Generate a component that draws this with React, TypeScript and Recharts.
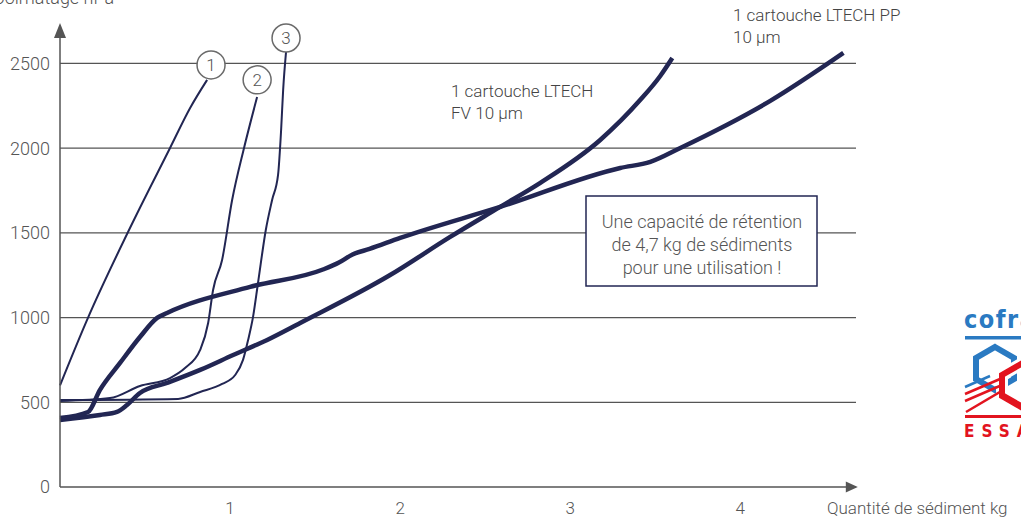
import React from "react";
import { LineChart, Line, XAxis, YAxis, ReferenceLine, ReferenceDot } from "recharts";

const xTicks = [1, 2, 3, 4];
const yTicks = [0, 500, 1000, 1500, 2000, 2500];

// thin numbered curves
const filter1 = [
  { x: 0, y: 600 },
  { x: 0.165, y: 1000 },
  { x: 0.4, y: 1505 },
  { x: 0.647, y: 2001 },
  { x: 0.765, y: 2237 },
  { x: 0.865, y: 2403 },
];

const filter2 = [
  { x: 0, y: 508 },
  { x: 0.294, y: 525 },
  { x: 0.47, y: 596 },
  { x: 0.647, y: 643 },
  { x: 0.735, y: 702 },
  { x: 0.824, y: 809 },
  { x: 0.871, y: 968 },
  { x: 0.9, y: 1163 },
  { x: 0.953, y: 1340 },
  { x: 1.012, y: 1694 },
  { x: 1.082, y: 2001 },
  { x: 1.159, y: 2302 },
];

const filter3 = [
  { x: 0, y: 513 },
  { x: 0.694, y: 520 },
  { x: 0.824, y: 561 },
  { x: 0.953, y: 608 },
  { x: 1.03, y: 661 },
  { x: 1.076, y: 750 },
  { x: 1.106, y: 868 },
  { x: 1.135, y: 1004 },
  { x: 1.165, y: 1210 },
  { x: 1.21, y: 1517 },
  { x: 1.247, y: 1694 },
  { x: 1.282, y: 1842 },
  { x: 1.3, y: 2107 },
  { x: 1.312, y: 2344 },
  { x: 1.329, y: 2568 },
];

// LTECH FV 10 µm
const fv10 = [
  { x: 0, y: 396 },
  { x: 0.235, y: 425 },
  { x: 0.335, y: 443 },
  { x: 0.394, y: 484 },
  { x: 0.47, y: 555 },
  { x: 0.629, y: 614 },
  { x: 0.824, y: 691 },
  { x: 1.018, y: 779 },
  { x: 1.218, y: 868 },
  { x: 1.412, y: 968 },
  { x: 1.941, y: 1251 },
  { x: 2.294, y: 1476 },
  { x: 2.588, y: 1653 },
  { x: 2.824, y: 1795 },
  { x: 3.176, y: 2048 },
  { x: 3.412, y: 2285 },
  { x: 3.529, y: 2426 },
  { x: 3.6, y: 2532 },
];

// LTECH PP 10 µm
const pp10 = [
  { x: 0, y: 407 },
  { x: 0.165, y: 443 },
  { x: 0.235, y: 573 },
  { x: 0.353, y: 732 },
  { x: 0.47, y: 885 },
  { x: 0.571, y: 998 },
  { x: 0.629, y: 1027 },
  { x: 1.118, y: 1181 },
  { x: 1.55, y: 1285 },
  { x: 1.64, y: 1325 },
  { x: 1.72, y: 1372 },
  { x: 1.82, y: 1405 },
  { x: 2.0, y: 1470 },
  { x: 2.588, y: 1653 },
  { x: 3.294, y: 1883 },
  { x: 3.471, y: 1919 },
  { x: 3.647, y: 2001 },
  { x: 4.176, y: 2279 },
  { x: 4.606, y: 2562 },
];

const markers = [
  { id: "1", x: 0.888, y: 2491 },
  { id: "2", x: 1.159, y: 2403 },
  { id: "3", x: 1.329, y: 2650 },
];

const NAVY = "#222653";
const GREY = "#555";
const FONT = "Roboto, 'Noto Sans', sans-serif";

const upArrow = (p: any) => (
  <path d={`M${p.cx},${p.cy - 15} L${p.cx + 6},${p.cy} L${p.cx - 6},${p.cy} Z`} fill={GREY} />
);
const rightArrow = (p: any) => (
  <path d={`M${p.cx + 12},${p.cy} L${p.cx},${p.cy - 5.5} L${p.cx},${p.cy + 5.5} Z`} fill={GREY} />
);

export default function App() {
  return (
    <div style={{ position: "absolute", left: 0, top: 0, width: 1021, height: 519, background: "#fff", fontFamily: FONT }}>
      <LineChart width={1021} height={519} margin={{ top: 38, right: 165, bottom: 0, left: 0 }}>
        <XAxis
          type="number"
          dataKey="x"
          domain={[0, 4.68]}
          ticks={xTicks}
          height={32}
          tickSize={0}
          tickMargin={15}
          axisLine={{ stroke: GREY, strokeWidth: 1.5 }}
          tick={{ fill: GREY, fontSize: 17, fontWeight: 300, fontFamily: FONT }}
        />
        <YAxis
          type="number"
          dataKey="y"
          domain={[0, 2650]}
          ticks={yTicks}
          width={60}
          tickSize={0}
          tickMargin={10}
          axisLine={{ stroke: GREY, strokeWidth: 1.5 }}
          tick={{ fill: GREY, fontSize: 18, fontWeight: 300, fontFamily: FONT }}
        />
        {yTicks.slice(1).map((t) => (
          <ReferenceLine key={t} y={t} stroke="#555" strokeWidth={1.2} />
        ))}
        <Line data={filter1} dataKey="y" type="monotone" stroke={NAVY} strokeWidth={2} dot={false} isAnimationActive={false} />
        <Line data={filter2} dataKey="y" type="monotone" stroke={NAVY} strokeWidth={2} dot={false} isAnimationActive={false} />
        <Line data={filter3} dataKey="y" type="monotone" stroke={NAVY} strokeWidth={2} dot={false} isAnimationActive={false} />
        <Line data={fv10} dataKey="y" type="monotone" stroke={NAVY} strokeWidth={4.5} dot={false} isAnimationActive={false} />
        <Line data={pp10} dataKey="y" type="monotone" stroke={NAVY} strokeWidth={4.5} dot={false} isAnimationActive={false} />
        <ReferenceDot x={0} y={2650} r={0} shape={upArrow} ifOverflow="visible" />
        <ReferenceDot x={4.62} y={0} r={0} shape={rightArrow} ifOverflow="visible" />
        {markers.map((m) => (
          <ReferenceDot
            key={m.id}
            x={m.x}
            y={m.y}
            r={14}
            fill="#fff"
            stroke="#6a6a6a"
            strokeWidth={1.5}
            ifOverflow="visible"
            label={{ value: m.id, position: "center", fill: GREY, fontSize: 17, fontWeight: 300, fontFamily: FONT }}
          />
        ))}
      </LineChart>

      <svg width={1021} height={519} style={{ position: "absolute", left: 0, top: 0, pointerEvents: "none" }}>
        <g fontFamily={FONT} fontWeight={300} fill={GREY}>
          <text x={-7} y={4} fontSize={18}>Colmatage hPa</text>
          <text x={827} y={514} fontSize={17}>Quantité de sédiment kg</text>
          <text x={451} y={97} fontSize={17} fill="#444">1 cartouche LTECH</text>
          <text x={451} y={119} fontSize={17} fill="#444">FV 10 µm</text>
          <text x={733} y={21} fontSize={17} fill="#444">1 cartouche LTECH PP</text>
          <text x={733} y={43} fontSize={17} fill="#444">10 µm</text>
        </g>

        <rect x={586} y={196} width={231} height={90} fill="#fff" stroke={NAVY} strokeWidth={1.5} />
        <g fontFamily={FONT} fontWeight={300} fill={GREY} fontSize={18} textAnchor="middle">
          <text x={702} y={228}>Une capacité de rétention</text>
          <text x={702} y={251}>de 4,7 kg de sédiments</text>
          <text x={702} y={274}>pour une utilisation !</text>
        </g>

        {/* cofrac logo, cut at the right edge */}
        <g>
          <text x={964} y={328} fill="#2a7ac2" fontSize={25} fontWeight="bold" letterSpacing={1.5} fontFamily="'DejaVu Sans Condensed', sans-serif">cofrac</text>
          <rect x={965} y={336} width={60} height={3.5} fill="#2a7ac2" />
          <polygon points="995,347 1014,358 1014,379 995,390 976,379 976,358" fill="none" stroke="#2a7ac2" strokeWidth={6} />
          <line x1={965} y1={387} x2={990} y2={376} stroke="#2a7ac2" strokeWidth={2.5} />
          <polygon points="1021,364 1040,375 1040,396 1021,407 1002,396 1002,375" fill="none" stroke="#fff" strokeWidth={12} />
          <polygon points="1021,364 1040,375 1040,396 1021,407 1002,396 1002,375" fill="none" stroke="#e2141f" strokeWidth={6} />
          <line x1={965} y1={394} x2={1000} y2={379} stroke="#e2141f" strokeWidth={2.5} />
          <line x1={965} y1={401} x2={1002} y2={385} stroke="#e2141f" strokeWidth={2.5} />
          <polyline points="966,412 1000,392 1021,404" fill="none" stroke="#e2141f" strokeWidth={2.5} />
          <rect x={965} y={415} width={60} height={3} fill="#e2141f" />
          <text x={964} y={437} fill="#e2141f" fontSize={17} fontWeight="bold" letterSpacing={7} fontFamily="'DejaVu Sans Condensed', sans-serif">ESSAIS</text>
        </g>
      </svg>
    </div>
  );
}
